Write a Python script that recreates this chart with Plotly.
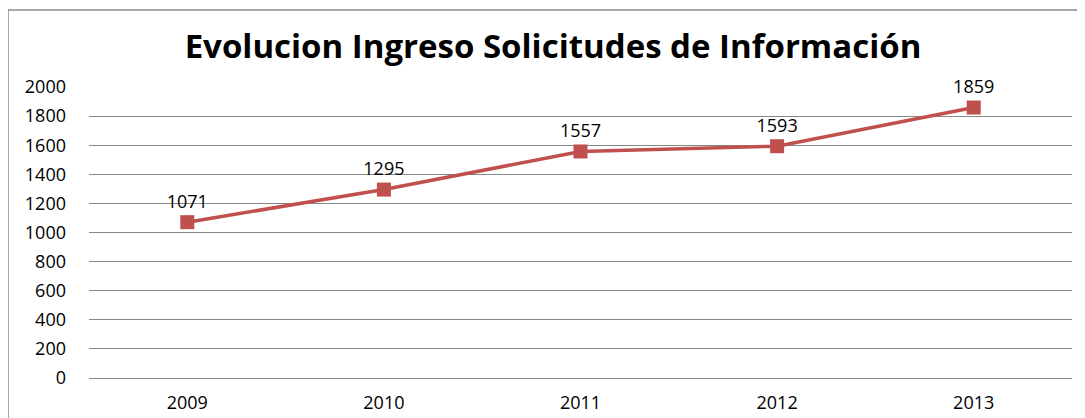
import plotly.graph_objects as go

years = ["2009", "2010", "2011", "2012", "2013"]
solicitudes = [1071, 1295, 1557, 1593, 1859]
y_ticks = [0, 200, 400, 600, 800, 1000, 1200, 1400, 1600, 1800, 2000]

RED = "#C0504D"
GRID = "#878787"
FONT = "Open Sans"

# page body has an 8px default margin; plot area placed accordingly
L, T, PW, PH = 81, 79, 983, 291

fig = go.Figure()
fig.add_trace(go.Scatter(
    x=years, y=solicitudes,
    mode="lines+markers+text",
    line=dict(color=RED, width=3.5),
    marker=dict(symbol="square", size=14, color=RED),
    text=[str(v) for v in solicitudes],
    textposition="top center",
    textfont=dict(family=FONT, size=18, color="#000000"),
    cliponaxis=False,
    showlegend=False,
))

fig.update_layout(
    width=1085, height=418,
    margin=dict(l=L, r=1085 - L - PW, t=T, b=418 - T - PH),
    paper_bgcolor="white", plot_bgcolor="white",
    title=dict(text="<b>Evolucion Ingreso Solicitudes de Información</b>",
               font=dict(family=FONT, size=33, color="#000000"),
               x=545 / 1085, xanchor="center",
               y=1 - 38 / 418, yanchor="middle"),
    xaxis=dict(type="category", range=[-0.5, 4.5], showgrid=False, showline=False,
               ticks="", ticklabelstandoff=12,
               tickfont=dict(family=FONT, size=18, color="#000000"),
               zeroline=False),
    yaxis=dict(range=[0, 2000], tickvals=y_ticks, showgrid=True, gridcolor=GRID,
               gridwidth=1, zeroline=True, zerolinecolor=GRID, zerolinewidth=1,
               showline=False, ticks="", ticklabelstandoff=22,
               tickfont=dict(family=FONT, size=18, color="#000000")),
    shapes=[dict(type="rect", xref="paper", yref="paper",
                 x0=(0 - L) / PW, x1=1.3, y0=-0.5, y1=(T + PH - 2) / PH,
                 line=dict(color="#8a8a8a", width=1.5), fillcolor="rgba(0,0,0,0)",
                 layer="below")],
)

fig.write_html("out.html")
